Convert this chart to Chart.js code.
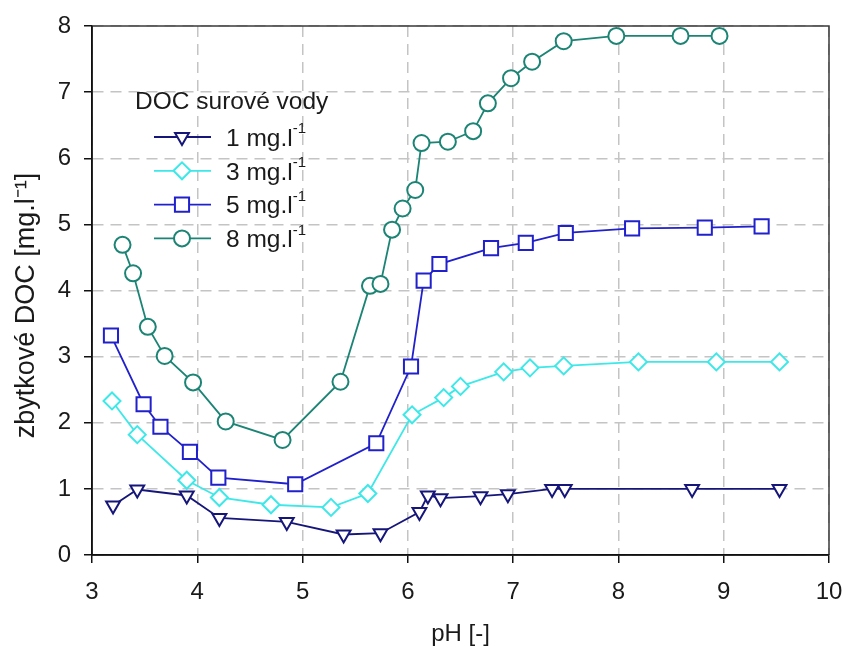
<!DOCTYPE html>
<html>
<head>
<meta charset="utf-8">
<script src="https://cdn.jsdelivr.net/npm/chart.js@4.4.0/dist/chart.umd.min.js"></script>
<style>
  html, body { margin: 0; padding: 0; background: #fff; }
  #wrap { width: 845px; height: 648px; }
</style>
</head>
<body>
<div id="wrap"><canvas id="docChart" width="845" height="648"></canvas></div>
<script>
// DOC surové vody 1 mg/l
const ph1 = [3.20, 3.43, 3.90, 4.21, 4.85, 5.39, 5.74, 6.11, 6.19, 6.31, 6.69, 6.95, 7.37, 7.49, 8.70, 9.53];
const doc1 = [0.75, 0.99, 0.90, 0.56, 0.50, 0.31, 0.33, 0.65, 0.90, 0.86, 0.89, 0.92, 1.00, 1.00, 1.00, 1.00];
// 3 mg/l
const ph3 = [3.19, 3.43, 3.90, 4.21, 4.70, 5.27, 5.62, 6.04, 6.34, 6.50, 6.91, 7.16, 7.48, 8.19, 8.93, 9.53];
const doc3 = [2.33, 1.82, 1.13, 0.87, 0.76, 0.72, 0.93, 2.12, 2.38, 2.55, 2.77, 2.83, 2.86, 2.92, 2.92, 2.92];
// 5 mg/l
const ph5 = [3.18, 3.49, 3.65, 3.93, 4.20, 4.93, 5.70, 6.03, 6.15, 6.30, 6.79, 7.12, 7.50, 8.13, 8.82, 9.36];
const doc5 = [3.32, 2.28, 1.94, 1.56, 1.17, 1.07, 1.69, 2.85, 4.15, 4.40, 4.64, 4.72, 4.87, 4.94, 4.95, 4.97];
// 8 mg/l
const ph8 = [3.29, 3.39, 3.53, 3.69, 3.96, 4.27, 4.81, 5.36, 5.64, 5.74, 5.85, 5.95, 6.07, 6.13, 6.38, 6.62, 6.76, 6.98, 7.18, 7.48, 7.98, 8.59, 8.96];
const doc8 = [4.69, 4.26, 3.45, 3.01, 2.61, 2.02, 1.74, 2.62, 4.07, 4.10, 4.92, 5.24, 5.52, 6.23, 6.25, 6.41, 6.83, 7.21, 7.46, 7.77, 7.85, 7.85, 7.85];

const seriesLabels = ['1 mg.l', '3 mg.l', '5 mg.l', '8 mg.l'];
const legendTitle = 'DOC surové vody';
const xTicks = [3, 4, 5, 6, 7, 8, 9, 10];
const yTicks = [0, 1, 2, 3, 4, 5, 6, 7, 8];

const FONT = "'Liberation Sans', Arial, sans-serif";

function pts(xs, ys) {
  return xs.map((x, i) => ({ x: x, y: ys[i] }));
}

function ds(label, xs, ys, color, style, radius, rotation) {
  return {
    label: label,
    data: pts(xs, ys),
    borderColor: color,
    backgroundColor: '#ffffff',
    borderWidth: 1.8,
    pointStyle: style,
    pointRadius: radius,
    pointHoverRadius: radius,
    pointRotation: rotation,
    pointBorderWidth: 2,
    pointBorderColor: color,
    pointBackgroundColor: '#ffffff',
    tension: 0
  };
}

const datasets = [
  ds(seriesLabels[0], ph1, doc1, '#16167a', 'triangle', 8, 180),
  ds(seriesLabels[1], ph3, doc3, '#3ee8e8', 'rectRot', 8.5, 0),
  ds(seriesLabels[2], ph5, doc5, '#2020cc', 'rect', 10, 0),
  ds(seriesLabels[3], ph8, doc8, '#1b8474', 'circle', 8, 0)
];

// white background + frame (top/right border)
const framePlugin = {
  id: 'frame',
  beforeDraw(chart) {
    const c = chart.ctx;
    c.save();
    c.fillStyle = '#ffffff';
    c.fillRect(0, 0, chart.width, chart.height);
    c.restore();
  },
  afterDraw(chart) {
    const a = chart.chartArea, c = chart.ctx;
    c.save();
    c.strokeStyle = '#3a3a3a';
    c.lineWidth = 1.5;
    c.beginPath();
    c.moveTo(a.left, a.top);
    c.lineTo(a.right, a.top);
    c.lineTo(a.right, a.bottom);
    c.stroke();
    c.strokeStyle = '#111';
    c.beginPath();
    c.moveTo(a.left, a.top);
    c.lineTo(a.left, a.bottom);
    c.lineTo(a.right, a.bottom);
    c.stroke();
    c.restore();
  }
};

// legend drawn inside the plot, with superscript units
const legendPlugin = {
  id: 'innerLegend',
  afterDraw(chart) {
    const c = chart.ctx;
    c.save();
    c.fillStyle = '#1a1a1a';
    c.textBaseline = 'middle';
    c.textAlign = 'left';
    c.font = '24.5px ' + FONT;
    c.fillText(legendTitle, 135, 102);
    chart.data.datasets.forEach((d, i) => {
      const y = 137 + i * 33.8;
      c.strokeStyle = d.borderColor;
      c.lineWidth = d.borderWidth;
      c.beginPath();
      c.moveTo(154, y);
      c.lineTo(211, y);
      c.stroke();
      c.fillStyle = '#fff';
      c.lineWidth = d.pointBorderWidth;
      Chart.helpers.drawPoint(c, {
        pointStyle: d.pointStyle,
        radius: d.pointRadius,
        rotation: d.pointRotation,
        borderWidth: d.pointBorderWidth
      }, 182, y);
      c.fillStyle = '#1a1a1a';
      c.font = '24.5px ' + FONT;
      c.fillText(d.label, 226, y + 2);
      const w = c.measureText(d.label).width;
      c.font = '15px ' + FONT;
      c.fillText('-1', w + 226, y - 8);
    });
    c.restore();
  }
};

const ctx = document.getElementById('docChart').getContext('2d');
const docChart = new Chart(ctx, {
  type: 'line',
  data: { datasets: datasets },
  options: {
    responsive: false,
    animation: false,
    events: [],
    layout: { padding: { left: 0, right: 16, top: 26, bottom: 0 } },
    plugins: {
      legend: { display: false },
      tooltip: { enabled: false }
    },
    scales: {
      x: {
        type: 'linear',
        min: 3,
        max: 10,
        afterBuildTicks(scale) { scale.ticks = xTicks.map(v => ({ value: v })); },
        afterFit(scale) {
          scale.height = 93;
          scale.paddingLeft = 0;
          scale.paddingRight = 0;
        },
        ticks: {
          color: '#1a1a1a',
          padding: 15,
          font: { family: FONT, size: 24 }
        },
        grid: {
          color: '#c4c4c4',
          lineWidth: 1.5,
          tickLength: 8,
          tickColor: '#111',
          tickWidth: 1.5
        },
        border: { color: '#111', width: 1.5, dash: [11, 7] },
        title: {
          display: true,
          text: 'pH [-]',
          color: '#1a1a1a',
          font: { family: FONT, size: 24, lineHeight: 1.1 },
          padding: { top: 0, bottom: 0 }
        }
      },
      y: {
        min: 0,
        max: 8,
        afterBuildTicks(scale) { scale.ticks = yTicks.map(v => ({ value: v })); },
        afterFit(scale) {
          scale.width = 92;
          scale.paddingTop = 0;
          scale.paddingBottom = 0;
        },
        ticks: {
          color: '#1a1a1a',
          padding: 13,
          font: { family: FONT, size: 24 }
        },
        grid: {
          color: '#c4c4c4',
          lineWidth: 1.5,
          tickLength: 8,
          tickColor: '#111',
          tickWidth: 1.5
        },
        border: { color: '#111', width: 1.5, dash: [11, 7] },
        title: {
          display: true,
          text: 'zbytkové DOC [mg.l⁻¹]    ',
          color: '#1a1a1a',
          font: { family: FONT, size: 27, lineHeight: 1 },
          padding: { top: 13, bottom: 0 }
        }
      }
    }
  },
  plugins: [framePlugin, legendPlugin]
});
</script>
</body>
</html>
